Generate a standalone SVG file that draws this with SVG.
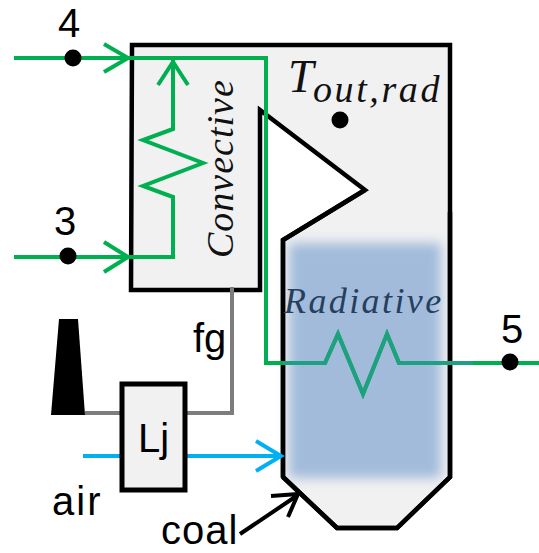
<svg xmlns="http://www.w3.org/2000/svg" width="539" height="553" viewBox="0 0 539 553">
<defs>
<filter id="soft" x="-20%" y="-20%" width="140%" height="140%"><feGaussianBlur stdDeviation="6"/></filter>
<style>
.wall{fill:#f1f1f1;stroke:#000;stroke-width:4.5;stroke-linejoin:miter}
.g{fill:none;stroke:#00b050;stroke-width:4}
.b{fill:none;stroke:#00b0f0;stroke-width:4}
.f{fill:none;stroke:#7f7c7c;stroke-width:4}
.k{fill:none;stroke:#000;stroke-width:4}
.t{font-family:"Liberation Sans",Arial,sans-serif;fill:#000;font-size:40px}
.m{font-family:"Liberation Serif",serif;font-style:italic;fill:#111}
</style>
</defs>
<g id="boiler">
<path class="wall" d="M132 45H450V477L397 528H337L283 477V240L365 190L260 110V290H131Z"/>
<rect x="289" y="243" width="152" height="235" fill="#a2bbdb" filter="url(#soft)"/>
<path d="M283 477V240L365 190M450 212V477L397 528H337L283 477" fill="none" stroke="#000" stroke-width="4.5"/>
</g>
<g id="stack"><path d="M59 319H78L85 415H51Z" fill="#000"/></g>
<g id="connectors">
<path class="f" d="M85 413H121M187 413H232V287"/>
<path class="b" d="M83 456H121M187 456H281M256 441L281 456L256 471"/>
<path class="g" d="M14 58H130M104 44L128 58L104 72M130 58H266V363H325L338 334L363 394L387 334L399 363H539" />
<path class="g" d="M14 257H173V197L143 186L203 163L143 140L173 129V60M158 85L173 62L188 85"/>
<path class="g" d="M104 242L128 257L104 272"/>
<path d="M283 363H325L338 334L363 394L387 334L399 363H473" fill="none" stroke="#1fa080" stroke-width="4"/>
<path class="k" d="M240 534L298 495M271 496L298 494L288 517"/>
</g>
<g id="lj"><rect x="122" y="384" width="63" height="106" fill="#f1f1f1" stroke="#000" stroke-width="5"/><text class="t" x="138" y="452">Lj</text></g>
<g id="points">
<circle cx="73" cy="58" r="8.500"/><circle cx="68" cy="256" r="8.500"/><circle cx="340" cy="120" r="8.500"/><circle cx="510" cy="362" r="8.500"/>
</g>
<g id="labels">
<text class="t" x="58" y="37">4</text>
<text class="t" x="54" y="235">3</text>
<text class="t" x="501" y="343">5</text>
<text class="t" x="193" y="352">fg</text>
<text class="t" x="52" y="515" style="letter-spacing:2px">air</text>
<text class="t" x="161" y="544" style="letter-spacing:1px">coal</text>
<text class="m" x="288" y="92" font-size="46">T</text>
<text class="m" x="313" y="102" font-size="38" letter-spacing="2.600">out,rad</text>
<text class="m" transform="translate(233 258) rotate(-90)" font-size="38" letter-spacing="1">Convective</text>
<text class="m" x="284" y="313" font-size="36" style="fill:#25405f" letter-spacing="2.400">Radiative</text>
</g>
</svg>
